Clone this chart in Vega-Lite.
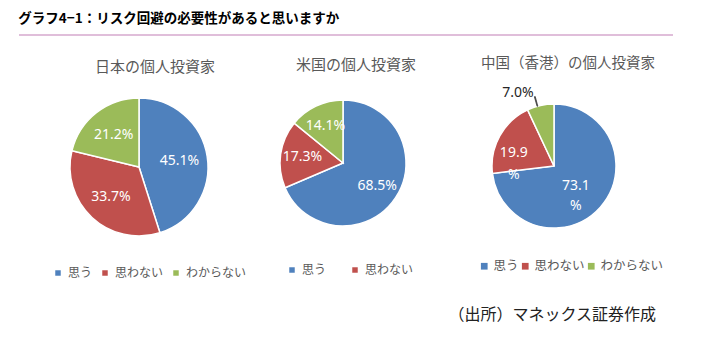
{
  "$schema": "https://vega.github.io/schema/vega-lite/v6.json",
  "padding": {"left": 18, "top": 11, "right": 0, "bottom": 20},
  "background": "white",
  "config": {
    "font": "Noto Sans CJK JP",
    "view": {"stroke": null},
    "legend": {
      "title": null,
      "orient": "none",
      "direction": "horizontal",
      "gridAlign": "none",
      "symbolType": "square",
      "symbolStrokeWidth": 0,
      "labelFont": "Noto Sans CJK JP",
      "labelColor": "#595959",
      "padding": 0,
      "labelOffset": 4
    }
  },
  "title": {
    "text": "（出所）マネックス証券作成",
    "orient": "bottom",
    "anchor": "end",
    "fontSize": 16,
    "fontWeight": "normal",
    "color": "#222222",
    "offset": 28,
    "dx": -25
  },
  "spacing": 20,
  "vconcat": [
    {
      "width": 654,
      "height": 1,
      "title": {
        "text": "グラフ4−1：リスク回避の必要性があると思いますか",
        "anchor": "start",
        "fontSize": 13.5,
        "fontWeight": "bold",
        "color": "#000000",
        "offset": 9
      },
      "data": {"values": [{}]},
      "mark": {"type": "rule", "color": "#D6A8CE", "strokeWidth": 1.5},
      "encoding": {
        "x": {"datum": 0, "type": "quantitative", "scale": {"domain": [0, 1]}, "axis": null},
        "x2": {"datum": 1},
        "y": {"value": 0}
      }
    },
    {
      "bounds": "flush",
      "spacing": 0,
      "resolve": {
        "scale": {"color": "independent", "theta": "independent"},
        "legend": {"color": "independent"}
      },
      "hconcat": [
        {
          "width": 240,
          "height": 152,
          "title": {"text": "日本の個人投資家", "fontSize": 15, "fontWeight": "normal", "color": "#595959", "offset": 16, "dx": 16},
          "data": {"values": [
            {"answer": "思う", "i": 1, "share": 45.1, "label": "45.1%"},
            {"answer": "思わない", "i": 2, "share": 33.7, "label": "33.7%"},
            {"answer": "わからない", "i": 3, "share": 21.2, "label": "21.2%"}
          ]},
          "encoding": {
            "theta": {"field": "share", "type": "quantitative", "stack": true},
            "order": {"field": "i", "type": "quantitative"}
          },
          "layer": [
            {
              "mark": {"type": "arc", "outerRadius": 69, "stroke": "white", "strokeWidth": 1.5},
              "encoding": {
                "color": {
                  "field": "answer", "type": "nominal",
                  "scale": {"domain": ["思う", "思わない", "わからない"], "range": ["#4F81BD", "#C0504D", "#9BBB59"]},
                  "legend": {"legendX": 33, "legendY": 176, "labelFontSize": 12, "symbolSize": 30, "columnPadding": 6, "gridAlign": "none"}
                }
              }
            },
            {
              "mark": {"type": "text", "radius": 41, "fontSize": 14, "font": "Noto Sans"},
              "encoding": {"text": {"field": "label"}, "color": {"value": "white"}}
            }
          ]
        },
        {
          "width": 168,
          "height": 144,
          "title": {"text": "米国の個人投資家", "fontSize": 15, "fontWeight": "normal", "color": "#595959", "offset": 18, "dx": 13},
          "data": {"values": [
            {"answer": "思う", "i": 1, "share": 68.5, "label": "68.5%"},
            {"answer": "思わない", "i": 2, "share": 17.3, "label": "17.3%"},
            {"answer": "わからない", "i": 3, "share": 14.1, "label": "14.1%"}
          ]},
          "encoding": {
            "theta": {"field": "share", "type": "quantitative", "stack": true},
            "order": {"field": "i", "type": "quantitative"}
          },
          "layer": [
            {
              "mark": {"type": "arc", "outerRadius": 63, "stroke": "white", "strokeWidth": 1.5},
              "encoding": {
                "color": {
                  "field": "answer", "type": "nominal",
                  "scale": {"domain": ["思う", "思わない", "わからない"], "range": ["#4F81BD", "#C0504D", "#9BBB59"]},
                  "legend": {"values": ["思う", "思わない"], "legendX": 27, "legendY": 173, "labelFontSize": 12, "symbolSize": 30, "columnPadding": 22, "gridAlign": "none"}
                }
              }
            },
            {
              "mark": {"type": "text", "radius": 41, "fontSize": 14, "font": "Noto Sans"},
              "encoding": {"text": {"field": "label"}, "color": {"value": "white"}}
            }
          ]
        },
        {
          "width": 254,
          "height": 150,
          "title": {"text": "中国（香港）の個人投資家", "fontSize": 14.5, "fontWeight": "normal", "color": "#595959", "offset": 14, "dx": 14},
          "data": {"values": [
            {"answer": "思う", "i": 1, "share": 73.1, "label": "73.1\n%"},
            {"answer": "思わない", "i": 2, "share": 19.9, "label": "19.9\n%"},
            {"answer": "わからない", "i": 3, "share": 7.0, "label": "7.0%"}
          ]},
          "layer": [
            {
              "mark": {"type": "arc", "outerRadius": 62, "stroke": "white", "strokeWidth": 1.5},
              "encoding": {
                "theta": {"field": "share", "type": "quantitative", "stack": true},
                "order": {"field": "i", "type": "quantitative"},
                "color": {
                  "field": "answer", "type": "nominal",
                  "scale": {"domain": ["思う", "思わない", "わからない"], "range": ["#4F81BD", "#C0504D", "#9BBB59"]},
                  "legend": {"legendX": 51, "legendY": 169, "labelFontSize": 12.5, "symbolSize": 45, "columnPadding": 0, "labelOffset": 3, "gridAlign": "none"}
                }
              }
            },
            {
              "mark": {"type": "text", "radius": 36, "dx": -5, "dy": -4, "fontSize": 14, "font": "Noto Sans", "lineBreak": "\n", "lineHeight": 20},
              "encoding": {
                "theta": {"field": "share", "type": "quantitative", "stack": true},
                "order": {"field": "i", "type": "quantitative"},
                "text": {"condition": {"test": "datum.i == 1", "field": "label"}, "value": ""},
                "color": {"value": "white"}
              }
            },
            {
              "mark": {"type": "text", "radius": 38, "dx": -7, "dy": 5, "fontSize": 14, "font": "Noto Sans", "lineBreak": "\n", "lineHeight": 22},
              "encoding": {
                "theta": {"field": "share", "type": "quantitative", "stack": true},
                "order": {"field": "i", "type": "quantitative"},
                "text": {"condition": {"test": "datum.i == 2", "field": "label"}, "value": ""},
                "color": {"value": "white"}
              }
            },
            {
              "mark": {"type": "text", "radius": 75, "dx": -4, "fontSize": 14, "font": "Noto Sans", "align": "right"},
              "encoding": {
                "theta": {"field": "share", "type": "quantitative", "stack": true},
                "order": {"field": "i", "type": "quantitative"},
                "text": {"condition": {"test": "datum.i == 3", "field": "label"}, "value": ""},
                "color": {"value": "#262626"}
              }
            },
            {
              "data": {"values": [{}]},
              "mark": {"type": "arc", "innerRadius": 62, "outerRadius": 72, "stroke": "#404040", "strokeWidth": 0.8, "fill": "#404040"},
              "encoding": {
                "theta": {"datum": 95.6, "type": "quantitative"},
                "theta2": {"datum": 95.8}
              }
            }
          ]
        }
      ]
    }
  ]
}
